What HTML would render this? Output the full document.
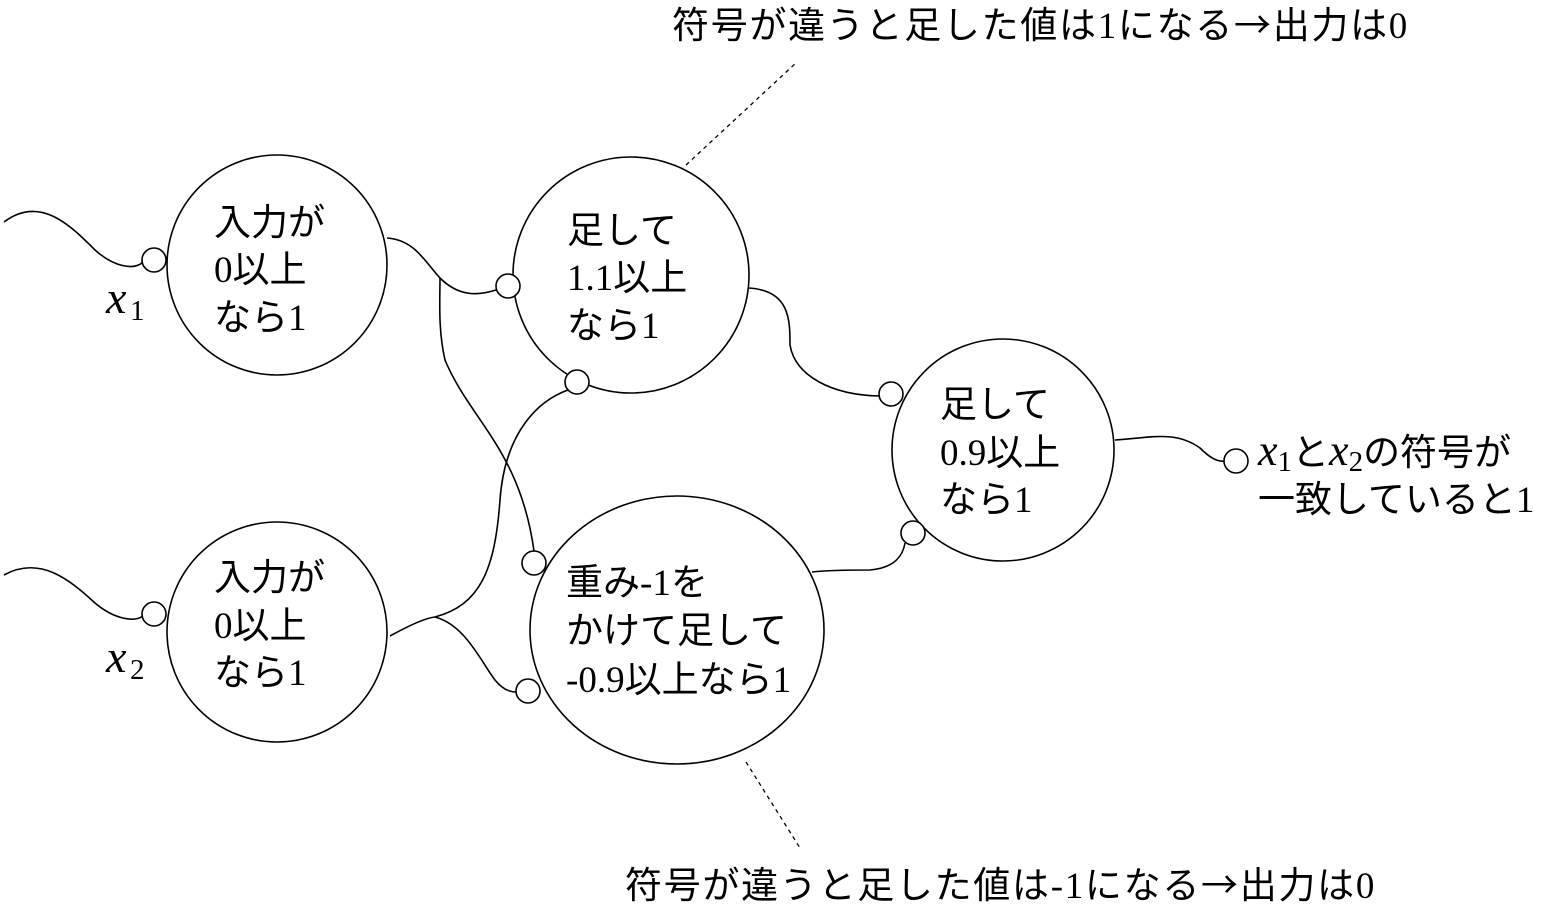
<!DOCTYPE html>
<html><head><meta charset="utf-8"><style>
html,body{margin:0;padding:0;background:#fff;}
svg{display:block;}
text{font-family:"Liberation Serif","Noto Sans CJK JP",serif;font-size:37px;fill:#000;}
.v{font-family:"Liberation Serif",serif;font-style:italic;font-size:46px;}
.s{font-family:"Liberation Serif",serif;font-size:29px;}
.a{font-family:"Noto Sans CJK JP",sans-serif;}
.n{letter-spacing:1.7px;}
</style></head><body>
<svg width="1542" height="913" viewBox="0 0 1542 913" xmlns="http://www.w3.org/2000/svg">
<g fill="none" stroke="#000" stroke-width="1.6">
<path d="M4,222 C40,195 70,225 95,250 C115,268 135,270 143,262"/>
<path d="M4,575 C40,555 70,580 95,603 C115,620 135,622 143,616"/>
<path d="M387,238 C415,240 425,262 440,278 C460,298 480,295 496,290"/>
<path d="M440,278 C440,300 438,330 445,360 C470,420 520,450 534,551"/>
<path d="M390,636 C410,625 425,618 435,617 C480,605 495,570 500,500 C505,430 540,400 568,390"/>
<path d="M435,617 C465,625 480,660 495,680 C503,690 510,692 516,692"/>
<path d="M748,288 C790,290 790,320 790,345 C795,375 830,395 880,396"/>
<path d="M812,572 C830,570 850,570 870,570 C895,568 903,555 905,543"/>
<path d="M1115,440 C1150,438 1175,430 1200,448 C1210,458 1218,462 1224,461"/>
<path d="M686,165 L797,62" stroke-dasharray="4,4" stroke-width="1.3"/>
<path d="M746,762 L800,848" stroke-dasharray="4,4" stroke-width="1.3"/>
<circle cx="277" cy="265" r="110" fill="#fff"/>
<circle cx="277" cy="632" r="110" fill="#fff"/>
<circle cx="631" cy="275" r="118" fill="#fff"/>
<ellipse cx="677" cy="630" rx="147" ry="134" fill="#fff"/>
<circle cx="1003" cy="450" r="111" fill="#fff"/>
<circle cx="154" cy="260" r="12" fill="#fff"/>
<circle cx="154" cy="614" r="12" fill="#fff"/>
<circle cx="508" cy="286" r="12" fill="#fff"/>
<circle cx="577" cy="382" r="12" fill="#fff"/>
<circle cx="534" cy="563" r="12" fill="#fff"/>
<circle cx="528" cy="691" r="12" fill="#fff"/>
<circle cx="891" cy="394" r="12" fill="#fff"/>
<circle cx="913" cy="533" r="12" fill="#fff"/>
<circle cx="1236" cy="461" r="12" fill="#fff"/>
</g>
<text class="n" x="672" y="38">符号が違うと足した値は1になる<tspan class="a">→</tspan>出力は0</text>
<text class="n" x="625" y="898">符号が違うと足した値は-1になる<tspan class="a">→</tspan>出力は0</text>
<text x="214" y="235">入力が</text><text x="214" y="282">0以上</text><text x="214" y="330">なら1</text>
<text x="214" y="590">入力が</text><text x="214" y="638">0以上</text><text x="214" y="685">なら1</text>
<text x="567" y="243">足して</text><text x="567" y="290">1.1以上</text><text x="567" y="338">なら1</text>
<text x="566" y="595">重み-1を</text><text x="566" y="643">かけて足して</text><text x="566" y="692">-0.9以上なら1</text>
<text x="940" y="417">足して</text><text x="940" y="465">0.9以上</text><text x="940" y="512">なら1</text>
<text class="v" x="106" y="313">x</text><text class="s" x="130" y="320">1</text>
<text class="v" x="106" y="672">x</text><text class="s" x="130" y="679">2</text>
<text x="1258" y="465"><tspan font-style="italic" font-size="44">x</tspan><tspan font-size="29" dy="6">1</tspan><tspan dy="-6">と</tspan><tspan font-style="italic" font-size="44">x</tspan><tspan font-size="29" dy="6">2</tspan><tspan dy="-6">の符号が</tspan></text>
<text x="1258" y="512">一致していると1</text>
</svg>
</body></html>
